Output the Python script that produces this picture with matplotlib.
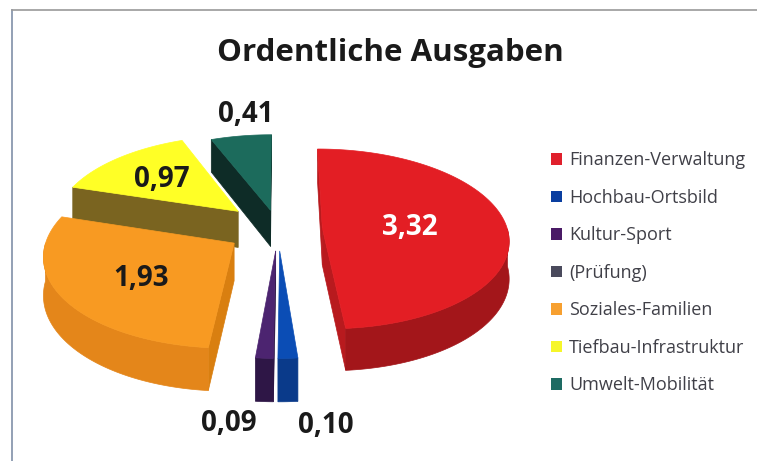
import numpy as np
import matplotlib.pyplot as plt
from matplotlib.patches import Polygon, Patch
from matplotlib.lines import Line2D

# data
labels = ["Finanzen-Verwaltung", "Hochbau-Ortsbild", "Kultur-Sport", "(Prüfung)",
          "Soziales-Familien", "Tiefbau-Infrastruktur", "Umwelt-Mobilität"]
values = [3.32, 0.10, 0.09, 0.00, 1.93, 0.97, 0.41]
value_text = ["3,32", "0,10", "0,09", "", "1,93", "0,97", "0,41"]

# styles
top_colors = ["#E31E24", "#0B4DB5", "#4C2470", "#4A4A5A", "#F89A22", "#FFFF26", "#1C6B5C"]
side_colors = ["#A3161A", "#0A3A8A", "#2E1646", "#303040", "#E4861A", "#B8A020", "#124A40"]
face_colors = ["#B81A1E", "#0A3580", "#2A1440", "#303040", "#D97F10", "#7A6420", "#0E2C27"]
legend_colors = ["#E0202C", "#0A3EA0", "#4A1A66", "#4A4A5C", "#F7A030", "#F6F62A", "#1E6B63"]
explode = [0.24, 0.24, 0.24, 0.0, 0.28, 0.30, 0.22]
label_r = [0.5, 1.0, 1.0, 0.0, 0.6, 0.55, 1.0]
label_z = [0, 1, 1, 0, 0, 0, 0]
label_dx = [-4, 38, -36, 0, 7, -8, 5]
label_dy = [1, 24, 22, 0, 3, -2, -21]
label_col = ["white", "#1a1a1a", "#1a1a1a", "#1a1a1a", "#1a1a1a", "#1a1a1a", "#1a1a1a"]

plt.rcParams['font.family'] = ['Open Sans', 'DejaVu Sans']

W, H = 757, 461
fig = plt.figure(figsize=(W / 100, H / 100), dpi=100)
ax = fig.add_axes([0, 0, 1, 1])
ax.set_xlim(0, W)
ax.set_ylim(H, 0)
ax.axis('off')

# 3d pie geometry (slight perspective)
cx, cy, R, k, D, p = 278, 229, 185, 0.48, 37, 0.12


def pt(x, y, z=0.0):
    f = 1.0 / (1.0 + p * y)
    return (cx + R * x * f, cy - R * k * y * f + D * z * f)


def area(poly):
    a = 0.0
    for (x1, y1), (x2, y2) in zip(poly, poly[1:] + poly[:1]):
        a += x1 * y2 - x2 * y1
    return a


total = sum(values)
ends = 90 - 360 * np.cumsum(values) / total
starts = np.concatenate([[90], ends[:-1]])

wedges = []
for i, v in enumerate(values):
    if v <= 0:
        continue
    t1, t2 = ends[i], starts[i]
    m = np.radians((t1 + t2) / 2)
    ox, oy = explode[i] * np.cos(m), explode[i] * np.sin(m)
    wedges.append((np.sin(m), i, t1, t2, ox, oy, m))

# back to front
wedges.sort(key=lambda w: -w[0])

for _, i, t1, t2, ox, oy, m in wedges:
    # radial faces (back-face culled)
    for t, sgn in ((t1, 1), (t2, -1)):
        c, s = np.cos(np.radians(t)), np.sin(np.radians(t))
        poly = [pt(ox, oy), pt(ox + c, oy + s), pt(ox + c, oy + s, 1), pt(ox, oy, 1)]
        if sgn * area(poly) > 0:
            ax.add_patch(Polygon(poly, closed=True, fc=face_colors[i], ec=face_colors[i], lw=0.5))
    # outer front side
    th = np.radians(np.linspace(t1, t2, 200))
    front = np.sin(th) < 0
    if front.any():
        seg = th[front]
        top = [pt(ox + np.cos(a), oy + np.sin(a)) for a in seg]
        bot = [pt(ox + np.cos(a), oy + np.sin(a), 1) for a in seg[::-1]]
        ax.add_patch(Polygon(top + bot, closed=True, fc=side_colors[i], ec=side_colors[i], lw=0.5))
    # top face
    poly = [pt(ox, oy)] + [pt(ox + np.cos(a), oy + np.sin(a)) for a in th]
    ax.add_patch(Polygon(poly, closed=True, fc=top_colors[i], ec=top_colors[i], lw=0.5))

    # value label
    r = label_r[i]
    x, y = pt(ox + r * np.cos(m), oy + r * np.sin(m), label_z[i])
    ax.text(x + label_dx[i], y + label_dy[i], value_text[i], ha='center', va='center',
            fontsize=20, fontweight='bold', color=label_col[i])

ax.text(390, 53, "Ordentliche Ausgaben", ha='center', va='center',
        fontsize=22.5, fontweight='bold', color='#1a1a1a')

handles = [Patch(facecolor=c, edgecolor='none') for c in legend_colors]
leg = ax.legend(handles, labels, loc='upper left', bbox_to_anchor=(544 / W, 1 - 144 / H),
                frameon=False, fontsize=13, labelspacing=1.08, handlelength=0.6,
                handleheight=0.6, handletextpad=0.4, borderaxespad=0)
for t in leg.get_texts():
    t.set_color('#404048')

# frame lines
fig.add_artist(Line2D([12 / W, 12 / W], [0, 1 - 10 / H], color='#8090A8', lw=1.2))
fig.add_artist(Line2D([12 / W, 1], [1 - 10 / H, 1 - 10 / H], color='#9A9A9A', lw=1.2))

fig.savefig("out.png", dpi=100)
